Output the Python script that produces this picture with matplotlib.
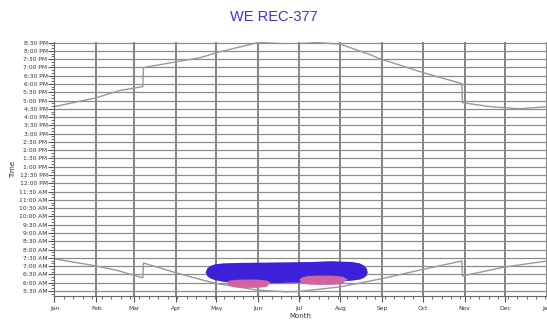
import matplotlib
matplotlib.use("Agg")
import matplotlib.pyplot as plt
from matplotlib.ticker import FixedLocator, MultipleLocator, FuncFormatter

# month ticks (day of year)
month_days = [0, 31, 59, 90, 120, 151, 181, 212, 243, 273, 304, 334, 365]
month_labels = ["Jan", "Feb", "Mar", "Apr", "May", "Jun", "Jul",
                "Aug", "Sep", "Oct", "Nov", "Dec", "Jan"]

# sunset (hours, local time)
sunset_days = [0, 31, 48, 65.5, 66, 108, 123, 151, 175, 192, 212, 234, 241, 273, 302, 302.5, 323, 345, 365]
sunset_hours = [16.63, 17.17, 17.6, 17.84, 18.99, 19.59, 19.95, 20.5, 20.6, 20.52, 20.4, 19.77,
                19.53, 18.69, 18.02, 16.87, 16.63, 16.5, 16.63]

# sunrise (hours, local time)
sunrise_days = [0, 31, 48, 63, 65.5, 66, 90, 108, 120, 151, 172, 181, 212, 243, 273, 302, 302.5, 334, 365]
sunrise_hours = [7.44, 7.01, 6.71, 6.35, 6.3, 7.19, 6.6, 6.2, 5.95, 5.55, 5.45, 5.47, 5.75,
                 6.25, 6.8, 7.31, 6.41, 6.95, 7.31]

# activity blob (blue)
blue_days = [111.7, 113, 115, 118, 125, 140, 160, 190, 205, 220, 226, 229, 231, 231.9]
blue_top = [6.65, 6.9, 7.03, 7.13, 7.2, 7.23, 7.25, 7.28, 7.33, 7.28, 7.2, 7.07, 6.9, 6.65]
blue_bottom = [6.65, 6.42, 6.3, 6.2, 6.08, 6.0, 6.0, 6.05, 6.1, 6.15, 6.22, 6.32, 6.45, 6.65]

# pink patches
pink1_days = [127, 129, 133, 140, 150, 157, 160]
pink1_top = [6.02, 6.14, 6.2, 6.22, 6.22, 6.16, 6.04]
pink1_bottom = [6.02, 5.85, 5.76, 5.72, 5.72, 5.78, 6.04]

pink2_days = [181, 183, 187, 195, 205, 213, 217]
pink2_top = [6.2, 6.34, 6.43, 6.46, 6.46, 6.4, 6.24]
pink2_bottom = [6.2, 6.0, 5.93, 5.9, 5.9, 5.95, 6.24]

grid_v = "#7a7a7a"
grid_h = "#8c8c8c"
curve_col = "#999999"


def time_label(h, pos):
    minutes = int(round(h * 60))
    hh = minutes // 60
    mm = minutes % 60
    ampm = "AM" if hh < 12 else "PM"
    h12 = hh % 12
    if h12 == 0:
        h12 = 12
    return f"{h12}:{mm:02d} {ampm}"


fig = plt.figure(figsize=(5.47, 3.21), dpi=100)
ax = fig.add_axes([0.0996, 0.078, 0.9, 0.791])

ax.fill_between(blue_days, blue_bottom, blue_top, color="#3b22d8", lw=0, zorder=3)
ax.fill_between(pink1_days, pink1_bottom, pink1_top, color="#d0649f", lw=0, zorder=4)
ax.fill_between(pink2_days, pink2_bottom, pink2_top, color="#d0649f", lw=0, zorder=4)

ax.plot(sunset_days, sunset_hours, color=curve_col, lw=1.0, zorder=2)
ax.plot(sunrise_days, sunrise_hours, color=curve_col, lw=1.0, zorder=2)

ax.set_xlim(0, 365)
ax.set_ylim(5.2, 20.53)

ax.xaxis.set_major_locator(FixedLocator(month_days))
ax.set_xticklabels(month_labels)
ax.xaxis.set_minor_locator(MultipleLocator(7))
ax.yaxis.set_major_locator(MultipleLocator(0.5))
ax.yaxis.set_minor_locator(MultipleLocator(1 / 6))
ax.yaxis.set_major_formatter(FuncFormatter(time_label))

ax.tick_params(axis="both", which="major", labelsize=4.3, colors="#555555", labelcolor="#333333")
ax.tick_params(axis="x", which="major", length=4, pad=3)
ax.tick_params(axis="x", which="minor", length=2.5, color="#555555")
ax.tick_params(axis="y", which="major", length=4, pad=1)
ax.tick_params(axis="y", which="minor", length=2, color="#555555")

ax.grid(True, axis="x", which="major", color=grid_v, lw=1.3, zorder=1)
ax.grid(True, axis="y", which="major", color=grid_h, lw=0.9, zorder=1)
ax.set_axisbelow(True)

for s in ["top", "right"]:
    ax.spines[s].set_visible(False)
ax.spines["left"].set_color("#666666")
ax.spines["bottom"].set_color("#666666")
ax.spines["left"].set_linewidth(0.8)
ax.spines["bottom"].set_linewidth(0.8)

ax.set_xlabel("Month", fontsize=5, color="#333333", labelpad=1.5)
ax.set_ylabel("Time", fontsize=5, color="#333333", labelpad=2)

fig.text(0.5, 0.947, "WE REC-377", ha="center", va="center", fontsize=10.5,
         color="#3a36d0", family="Liberation Sans")

fig.savefig("out.png", dpi=100)
